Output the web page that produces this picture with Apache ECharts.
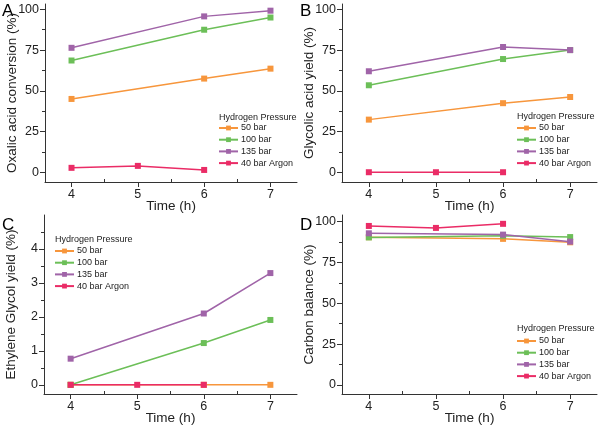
<!DOCTYPE html>
<html>
<head>
<meta charset="utf-8">
<script src="https://cdn.jsdelivr.net/npm/echarts@6/dist/echarts.min.js"></script>
<style>
html,body{margin:0;padding:0;background:#fff;}
#c{width:598px;height:427px;}
</style>
</head>
<body>
<div id="c"></div>
<script>
// ---- data ----
const seriesNames = ['50 bar', '100 bar', '135 bar', '40 bar Argon'];
const timesH2 = [4, 6, 7];
const timesAr = [4, 5, 6];
const xTicks = [4, 5, 6, 7];
const xMinorTicks = [4.5, 5.5, 6.5];
const pctTicks = [0, 25, 50, 75, 100];
const pctMinorTicks = [12.5, 37.5, 62.5, 87.5];
const egTicks = [0, 1, 2, 3, 4];
const egMinorTicks = [0.5, 1.5, 2.5, 3.5, 4.5];

// A: Oxalic acid conversion (%)
const convA50 = [45.0, 57.5, 63.6];
const convA100 = [68.6, 87.5, 95.0];
const convA135 = [76.4, 95.7, 99.2];
const convAAr = [2.7, 3.9, 1.4];
// B: Glycolic acid yield (%)
const glyB50 = [32.3, 42.4, 46.2];
const glyB100 = [53.4, 69.5, 75.0];
const glyB135 = [62.0, 76.9, 75.0];
const glyBAr = [0, 0, 0];
// C: Ethylene Glycol yield (%)
const egC50 = [0, 0, 0];
const egC100 = [0, 1.23, 1.91];
const egC135 = [0.77, 2.10, 3.29];
const egCAr = [0, 0, 0];
// D: Carbon balance (%)
const cbD50 = [90.4, 89.4, 87.3];
const cbD100 = [90.3, 91.3, 90.5];
const cbD135 = [92.8, 92.0, 87.7];
const cbDAr = [97.3, 96.1, 98.6];

const colors = ['#F7963C', '#6CBF58', '#A064A8', '#EA2C66'];
const FONT = 'Liberation Sans, Arial, sans-serif';

const grids = [
  {left: 45, top: 4, width: 252, height: 178},
  {left: 342, top: 4, width: 255, height: 178},
  {left: 44, top: 215, width: 253, height: 179},
  {left: 342, top: 215, width: 255, height: 179}
];
const yRanges = [[-6, 103.3], [-6, 103.3], [-0.27, 5.0], [-5.5, 104]];
const yMajor = [pctTicks, pctTicks, egTicks, pctTicks];
const yMinor = [pctMinorTicks, pctMinorTicks, egMinorTicks, pctMinorTicks];
const yNames = ['Oxalic acid conversion (%)', 'Glycolic acid yield (%)', 'Ethylene Glycol yield (%)', 'Carbon balance (%)'];
const panelData = [
  [convA50, convA100, convA135, convAAr],
  [glyB50, glyB100, glyB135, glyBAr],
  [egC50, egC100, egC135, egCAr],
  [cbD50, cbD100, cbD135, cbDAr]
];
const letters = ['A', 'B', 'C', 'D'];
const letterPos = [[2, 3], [300, 3], [2, 217], [300, 217]];
// [left, title centre y, first item centre y]
const legendPos = [[218, 118, 128], [516, 117, 128], [54, 240, 251], [516, 329, 341]];

const xAxes = [], yAxes = [], series = [], legends = [], graphics = [];
const axisLine = {show: true, onZero: false, lineStyle: {color: '#333', width: 1}};
for (let g = 0; g < 4; g++) {
  xAxes.push({
    type: 'value', gridIndex: g, min: 3.6, max: 7.4, position: 'bottom',
    name: 'Time (h)', nameLocation: 'middle', nameGap: 17, nameMoveOverlap: false,
    nameTextStyle: {fontFamily: FONT, fontSize: 13.5, color: '#222'},
    axisLine: axisLine,
    axisTick: {show: true, customValues: xTicks, length: 5, lineStyle: {color: '#333'}},
    axisLabel: {customValues: xTicks, margin: 6, fontFamily: FONT, fontSize: 12.5, color: '#222'},
    splitLine: {show: false}
  });
  xAxes.push({
    type: 'value', gridIndex: g, min: 3.6, max: 7.4, position: 'bottom', offset: 0,
    axisLine: {show: false, onZero: false},
    axisTick: {show: true, inside: true, customValues: xMinorTicks, length: 3, lineStyle: {color: '#333'}},
    axisLabel: {show: false},
    splitLine: {show: false}
  });
  yAxes.push({
    type: 'value', gridIndex: g, min: yRanges[g][0], max: yRanges[g][1], position: 'left',
    name: yNames[g], nameLocation: 'middle', nameGap: 26, nameMoveOverlap: false,
    nameTextStyle: {fontFamily: FONT, fontSize: 13.5, color: '#222'},
    axisLine: axisLine,
    axisTick: {show: true, customValues: yMajor[g], length: 5, lineStyle: {color: '#333'}},
    axisLabel: {customValues: yMajor[g], margin: 6, fontFamily: FONT, fontSize: 12.5, color: '#222'},
    splitLine: {show: false}
  });
  yAxes.push({
    type: 'value', gridIndex: g, min: yRanges[g][0], max: yRanges[g][1], position: 'left', offset: 0,
    axisLine: {show: false, onZero: false},
    axisTick: {show: true, customValues: yMinor[g], length: 3, lineStyle: {color: '#333'}},
    axisLabel: {show: false},
    splitLine: {show: false}
  });
  for (let s = 0; s < 4; s++) {
    const xs = s === 3 ? timesAr : timesH2;
    series.push({
      type: 'line', name: seriesNames[s],
      xAxisIndex: g * 2, yAxisIndex: g * 2,
      data: xs.map((x, i) => [x, panelData[g][s][i]]),
      color: colors[s],
      symbol: 'rect', symbolSize: 6,
      lineStyle: {width: 1.5},
      itemStyle: {color: colors[s]},
      animation: false, z: 2 + s
    });
  }
  legends.push({
    data: seriesNames, orient: 'vertical',
    left: legendPos[g][0], top: legendPos[g][2] - 4.5,
    itemWidth: 19, itemHeight: 6, itemGap: 2.7, padding: 0,
    selectedMode: false,
    textStyle: {fontFamily: FONT, fontSize: 9, lineHeight: 9, color: '#222', padding: [0, 0, 0, -2]}
  });
  graphics.push({
    type: 'text', left: legendPos[g][0] + 1, top: legendPos[g][1] - 5,
    style: {text: 'Hydrogen Pressure', font: '9px ' + FONT, fill: '#222'}
  });
  graphics.push({
    type: 'text', left: letterPos[g][0], top: letterPos[g][1],
    style: {text: letters[g], font: '17px ' + FONT, fill: '#000'}
  });
}

const chart = echarts.init(document.getElementById('c'), null, {renderer: 'canvas'});
chart.setOption({
  backgroundColor: '#fff',
  animation: false,
  grid: grids,
  xAxis: xAxes,
  yAxis: yAxes,
  legend: legends,
  series: series,
  graphic: graphics
});
</script>
</body>
</html>
